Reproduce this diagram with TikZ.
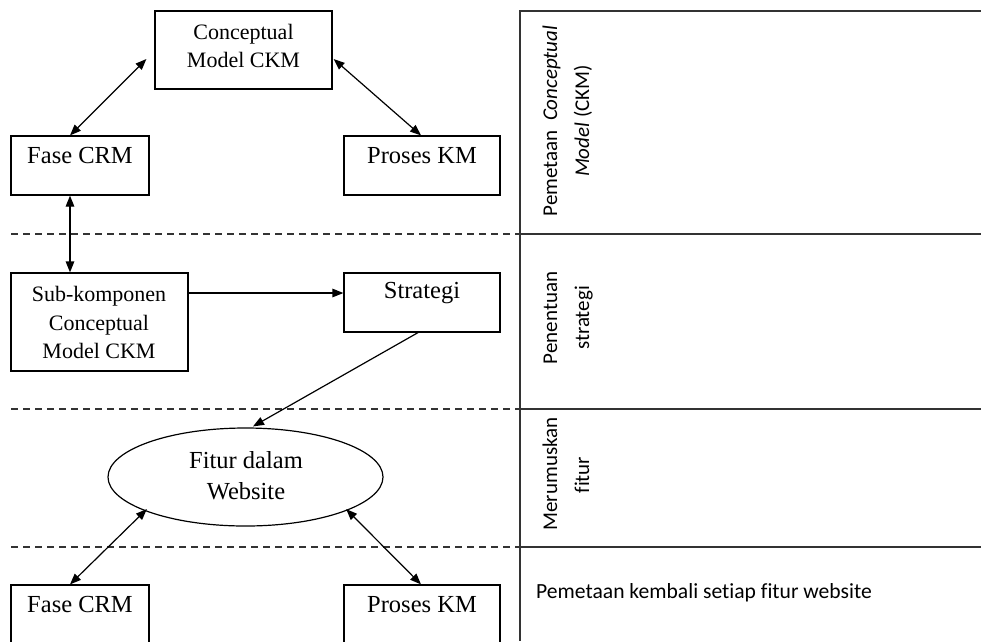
\documentclass[tikz,border=0pt]{standalone}
\usepackage{fontspec}
\setmainfont{Liberation Serif}
\newfontfamily\calfont[Ligatures={NoCommon}]{Carlito}
\usetikzlibrary{arrows.meta,shapes.geometric}
\tikzset{
  boxshape/.style={draw, line width=1.2pt, rectangle, inner sep=0pt},
  ellshape/.style={draw, line width=1.2pt, ellipse, inner sep=0pt},
  bigtxt/.style={inner sep=0pt, anchor=base, font=\fontsize{24.5}{28}\selectfont},
  smalltxt/.style={inner sep=0pt, anchor=base, font=\fontsize{22}{28}\selectfont},
  sidetxt/.style={inner sep=0pt, anchor=base, rotate=90, font=\calfont\fontsize{21}{26}\selectfont},
  flowline/.style={line width=1.2pt, -{Triangle[length=11pt,width=8.5pt]}},
  dualline/.style={line width=1.2pt, {Triangle[length=11pt,width=8.5pt]}-{Triangle[length=11pt,width=8.5pt]}},
  dashline/.style={line width=1.4pt, dash pattern=on 7pt off 5pt, color=black!80},
  panelline/.style={line width=1.3pt, color=black!80},
}
\begin{document}
\begin{tikzpicture}[x=1pt,y=-1pt]
\useasboundingbox (0,0) rectangle (981,641);
\clip (0,0) rectangle (981,641);
\fill[white] (0,0) rectangle (981,641);

% right panel
\coordinate (pTL) at (520,11);
\coordinate (pTR) at (981,11);
\coordinate (pBL) at (520,641);
\draw[panelline] (pTR) -- (pTL) -- (pBL);
\foreach \yy in {234,409,547}{
  \draw[panelline] (520,\yy) -- (981,\yy);
  \draw[dashline] (11,\yy) -- (520,\yy);
}

% shapes
\node[boxshape, minimum width=177pt, minimum height=78pt] (ckm) at (243.5,50) {};
\node[boxshape, minimum width=138pt, minimum height=59pt] (fcrmA) at (80,165.5) {};
\node[boxshape, minimum width=156pt, minimum height=59pt] (pkmA) at (422,165.5) {};
\node[boxshape, minimum width=177pt, minimum height=98pt] (sub) at (99.5,322) {};
\node[boxshape, minimum width=156pt, minimum height=59pt] (str) at (422,302.5) {};
\node[ellshape, minimum width=275pt, minimum height=98pt] (fit) at (245.5,477) {};
\node[boxshape, minimum width=138pt, minimum height=59pt] (fcrmB) at (80,614.5) {};
\node[boxshape, minimum width=156pt, minimum height=59pt] (pkmB) at (422,614.5) {};

% texts
\node[smalltxt] (ckmA) at (243.5,39.5) {Conceptual};
\node[smalltxt] (ckmB) at (243.5,67.3) {Model CKM};
\node[bigtxt] (tfA) at (80,163) {Fase CRM};
\node[bigtxt] (tpA) at (422,163) {Proses KM};
\node[smalltxt] (tsA) at (99,301.7) {Sub-komponen};
\node[smalltxt] (tsB) at (99,330) {Conceptual};
\node[smalltxt] (tsC) at (99,358.3) {Model CKM};
\node[bigtxt] (tst) at (422,298.5) {Strategi};
\node[bigtxt] (tfiA) at (246,468.3) {Fitur dalam};
\node[bigtxt] (tfiB) at (246,499.3) {Website};
\node[bigtxt] (tfB) at (80,612.5) {Fase CRM};
\node[bigtxt] (tpB) at (422,612.5) {Proses KM};

% side labels
\node[sidetxt] (s1a) at (557,121) {Pemetaan\ \ \textit{Conceptual}};
\node[sidetxt] (s1b) at (589,121) {\textit{Model} (CKM)};
\node[sidetxt] (s2a) at (557,318) {Penentuan};
\node[sidetxt] (s2b) at (589,318) {strategi};
\node[sidetxt] (s3a) at (557,474) {Merumuskan};
\node[sidetxt] (s3b) at (589,475) {fitur};
\node[inner sep=0pt, anchor=base west, font=\calfont\fontsize{21.6}{26}\selectfont] (s4) at (536,598) {Pemetaan kembali setiap fitur website};

% connectors
\draw[dualline] ([xshift=-10pt]fcrmA.north) -- ([xshift=-8pt,yshift=-9pt]ckm.west);
\draw[dualline] ([xshift=1pt,yshift=-9pt]ckm.east) -- ([xshift=-1pt]pkmA.north);
\draw[dualline] ([xshift=-10pt]fcrmA.south) -- ([xshift=-29.5pt]sub.north);
\draw[flowline] ([yshift=29pt]sub.east) -- ([yshift=9.5pt]str.west);
\draw[flowline] ([xshift=-4pt]str.south) -- ([xshift=7.5pt,yshift=1pt]fit.north);
\draw[dualline] ([xshift=-1pt,yshift=3pt]fit.south west) -- ([xshift=-10pt]fcrmB.north);
\draw[dualline] ([xshift=3pt,yshift=3pt]fit.south east) -- ([xshift=-1pt]pkmB.north);
\end{tikzpicture}
\end{document}
